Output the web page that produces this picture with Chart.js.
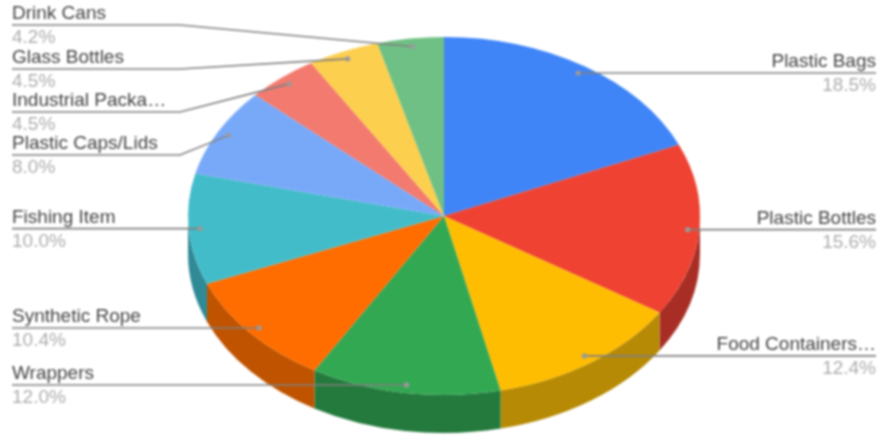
<!DOCTYPE html>
<html lang="en">
<head>
  <meta charset="UTF-8">
  <title>Litter pie</title>
  <script src="https://cdn.jsdelivr.net/npm/chart.js"></script>
  <style>
    html, body { margin: 0; padding: 0; background: #fff; overflow: hidden; }
    canvas { display: block; filter: blur(0.8px); }
  </style>
</head>
<body>
<canvas id="pie" width="886" height="439"></canvas>

<script>
  const categories = ["Plastic Bags", "Plastic Bottles", "Food Containers...", "Wrappers", "Synthetic Rope",
    "Fishing Item", "Plastic Caps/Lids", "Industrial Packa...", "Glass Bottles", "Drink Cans"];
  const shares = [18.5, 15.6, 12.4, 12.0, 10.4, 10.0, 8.0, 4.5, 4.5, 4.2];
  const topColors = ["#3f85f8", "#ef4232", "#ffbd02", "#33a852", "#ff6d00", "#43bcc9", "#78a9f9", "#f37a6f", "#fdcf4f", "#6fc084"];
  const wallColors = ["#2c5dad", "#a82e25", "#b68a04", "#247a3d", "#bf5300", "#2f8a96", "#5477ae", "#aa554e", "#b19137", "#4e865d"];

  // where the elbowed labels sit, same order as categories, the others follow their dot
  const labelY = [null, null, null, null, null, null, 155, 112, 69, 25];
  const labelRight = [true, true, true, false, false, false, false, false, false, false];

  const CX = 444, CY = 216, RX = 256, RY = 179, DEPTH = 38;

  // chart.js only does round pies, so squash the context around the datasets draw
  const tilt = {
    id: 'tilt',
    beforeDatasetDraw(chart, args) {
      const ctx = chart.ctx;
      const arcs = args.meta.data;
      const k = arcs[0];
      const sx = RX / k.outerRadius, sy = RY / k.outerRadius;

      // side wall, only the front half shows
      arcs.forEach((arc, i) => {
        const a0 = Math.max(arc.startAngle, 0);
        const a1 = Math.min(arc.endAngle, Math.PI);
        if (a1 <= a0) return;
        ctx.beginPath();
        ctx.ellipse(CX, CY, RX, RY, 0, a0, a1);
        ctx.ellipse(CX, CY + DEPTH, RX, RY, 0, a1, a0, true);
        ctx.closePath();
        ctx.fillStyle = wallColors[i];
        ctx.fill();
      });

      ctx.save();
      ctx.translate(CX, CY);
      ctx.scale(sx, sy);
      ctx.translate(-k.x, -k.y);
    },
    afterDatasetDraw(chart) {
      chart.ctx.restore();
    },
    afterDraw(chart) {
      const ctx = chart.ctx;
      const arcs = chart.getDatasetMeta(0).data;
      ctx.save();
      arcs.forEach((arc, i) => {
        const mid = (arc.startAngle + arc.endAngle) / 2;
        const dotX = CX + Math.cos(mid) * RX * 0.955;
        const dotY = CY + Math.sin(mid) * RY * 0.955;
        const right = labelRight[i];
        const edge = right ? 876 : 12;
        const y = labelY[i] === null ? dotY : labelY[i];

        ctx.strokeStyle = '#808080';
        ctx.lineWidth = 1.6;
        ctx.beginPath();
        ctx.moveTo(edge, y);
        if (labelY[i] !== null) ctx.lineTo(180, y);
        ctx.lineTo(dotX, dotY);
        ctx.stroke();

        ctx.fillStyle = '#9a9a9a';
        ctx.beginPath();
        ctx.arc(dotX, dotY, 2.6, 0, Math.PI * 2);
        ctx.fill();

        ctx.font = '19px "Liberation Sans"';
        ctx.textAlign = right ? 'right' : 'left';
        ctx.textBaseline = 'alphabetic';
        ctx.fillStyle = '#444444';
        ctx.fillText(categories[i].replace('...', '…'), edge, y - 6);
        ctx.fillStyle = '#adadad';
        ctx.fillText(shares[i].toFixed(1) + '%', edge, y + 18);
      });
      ctx.restore();
    }
  };

  new Chart(document.getElementById('pie'), {
    type: 'pie',
    data: {
      labels: categories,
      datasets: [{
        data: shares,
        backgroundColor: topColors,
        borderWidth: 0,
        clip: false
      }]
    },
    options: {
      responsive: false,
      animation: false,
      layout: { padding: 0 },
      plugins: {
        legend: { display: false },
        tooltip: { enabled: false }
      }
    },
    plugins: [tilt]
  });
</script>
</body>
</html>
